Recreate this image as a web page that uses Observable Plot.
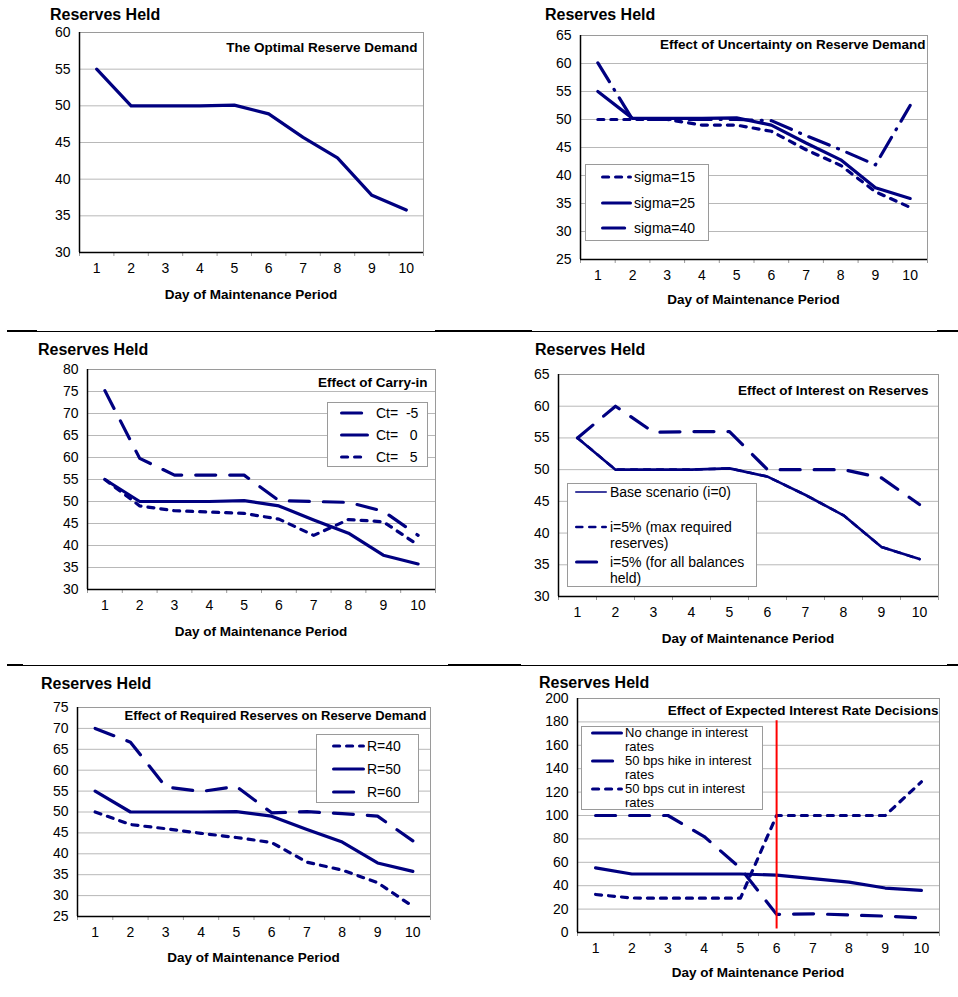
<!DOCTYPE html>
<html><head><meta charset="utf-8">
<script src="https://cdn.jsdelivr.net/npm/d3@7"></script>
<script src="https://cdn.jsdelivr.net/npm/@observablehq/plot@0.6"></script>
<style>
body{margin:0;background:#fff;font-family:"Liberation Sans",Arial,sans-serif;color:#000}
#root{position:relative;width:958px;height:997px;overflow:hidden;background:#fff}
.abs{position:absolute;white-space:nowrap}
.rh{font-weight:bold;font-size:16px;line-height:16px}
.xt{font-weight:bold;font-size:13.5px;line-height:16px;text-align:center}
.lg{position:absolute;border:1px solid #9a9a9a;background:#fff;box-sizing:border-box}
g[aria-label="x-axis tick label"], g[aria-label="y-axis tick label"],
g[aria-label="x-axis tick label"] text, g[aria-label="y-axis tick label"] text{font-size:14px !important}
</style></head><body><div id="root"></div>
<script>
// ---------- data ----------
const days = [1, 2, 3, 4, 5, 6, 7, 8, 9, 10];
const optimal = [55, 50, 50, 50, 50.1, 48.9, 45.7, 42.9, 37.8, 35.8];

const sigma15 = [50, 50, 50, 49, 49, 47.9, 44.6, 41.8, 37.1, 34.3];
const sigma25 = [55, 50.2, 50.2, 50.2, 50.3, 49, 45.8, 42.8, 37.8, 35.9];
const sigma40 = [60.1, 50, 50, 50, 50, 49.8, 47.1, 44.6, 41.9, 52.5];

const ctMinus5 = [75.2, 59.8, 56, 56, 56, 50.2, 50, 49.8, 47.8, 42.3];
const ct0 = [55, 50, 50, 50, 50.2, 49, 45.8, 42.8, 37.8, 35.8];
const ctPlus5 = [55, 49, 47.9, 47.6, 47.3, 46, 42.3, 45.9, 45.4, 40.1];

const baseScenario = [55, 50, 50, 50, 50.2, 48.9, 46, 42.8, 37.8, 35.9];
const maxRequired = [55, 50, 50, 50, 50.2, 48.9, 46, 42.8, 37.8, 35.9];
const allBalances = [55, 60, 55.9, 56, 56, 50, 50, 50, 48.7, 44.5];

const r40 = [50, 47, 46, 44.9, 43.9, 42.7, 38, 36.1, 33.1, 27.4];
const r50 = [55, 50, 50, 50, 50.1, 49, 45.8, 42.8, 37.8, 35.8];
const r60 = [70, 66.7, 56, 54.9, 56.1, 49.8, 50.1, 49.6, 49, 43.1];

const noChange = [55.3, 50, 50, 50, 50, 49, 46, 43, 38, 36];
const hike = [100, 100, 100, 82, 55, 15.5, 16, 15, 14, 12.5];
const cut = [32.5, 29.5, 29.3, 29.3, 29.3, 100, 100, 100, 100, 128.8];
const decisionDay = [{day: 6, low: 3, high: 181}];

// ---------- styles ----------
const NAVY = "#000080";
const SOLID = null;
const SHORT = "6,7";
const LONG = "20,14";
const DASHDOT = "22,9,1,9";
const FONT = '"Liberation Sans", Arial, sans-serif';

const root = document.getElementById("root");
function el(tag, cls, css, html) {
  const e = document.createElement(tag);
  if (cls) e.className = cls;
  Object.assign(e.style, css);
  if (html != null) e.innerHTML = html;
  root.appendChild(e);
  return e;
}

const panels = [
  {L: 79, R: 423, T: 32, B: 252, ymin: 30, ymax: 60, step: 5, rhX: 50, rhY: 15, xtY: 295,
   title: "The Optimal Reserve Demand", tdx: -6, tdy: 15, tfs: 13.5,
   series: [{name: "optimal", values: optimal, dash: SOLID, w: 3.2}]},
  {L: 580, R: 927, T: 35, B: 259, ymin: 25, ymax: 65, step: 5, rhX: 545, rhY: 15, xtY: 300,
   title: "Effect of Uncertainty on Reserve Demand", tdx: -2, tdy: 9, tfs: 13.5,
   series: [
     {name: "sigma=15", values: sigma15, dash: SHORT, w: 3.2},
     {name: "sigma=25", values: sigma25, dash: SOLID, w: 3.2},
     {name: "sigma=40", values: sigma40, dash: DASHDOT, w: 3.2}],
   legend: {L: 585, T: 164, R: 709, B: 241, x1: 601, x2: 632, tx: 634, lh: 16, fs: 14,
     rows: [{y: 177, s: 0, lines: ["sigma=15"]}, {y: 203, s: 1, lines: ["sigma=25"]}, {y: 228, s: 2, lines: ["sigma=40"]}]}},
  {L: 87, R: 435, T: 369, B: 589, ymin: 30, ymax: 80, step: 5, rhX: 38, rhY: 350, xtY: 632,
   title: "Effect of Carry-in", tdx: -8, tdy: 13, tfs: 13.5,
   series: [
     {name: "Ct= -5", values: ctMinus5, dash: LONG, w: 3.2},
     {name: "Ct= 0", values: ct0, dash: SOLID, w: 3.2},
     {name: "Ct= 5", values: ctPlus5, dash: SHORT, w: 3.2}],
   legend: {L: 327, T: 402, R: 428, B: 467, x1: 340, x2: 369, tx: 376, lh: 16, fs: 14,
     rows: [{y: 413, s: 0, lines: ["Ct=&nbsp; -5"]}, {y: 435, s: 1, lines: ["Ct=&nbsp;&nbsp; 0"]}, {y: 457, s: 2, lines: ["Ct=&nbsp;&nbsp; 5"]}]}},
  {L: 558, R: 938, T: 374, B: 596, ymin: 30, ymax: 65, step: 5, rhX: 535, rhY: 350, xtY: 639,
   title: "Effect of Interest on Reserves", tdx: -10, tdy: 16, tfs: 13.5,
   series: [
     {name: "Base scenario (i=0)", values: baseScenario, dash: SOLID, w: 2.6, lw: 1.6},
     {name: "i=5% (max required reserves)", values: maxRequired, dash: SHORT, w: 2.6},
     {name: "i=5% (for all balances held)", values: allBalances, dash: LONG, w: 3.2}],
   legend: {L: 567, T: 483, R: 757, B: 587, x1: 575, x2: 607, tx: 610, lh: 16, fs: 14,
     rows: [{y: 492, s: 0, lines: ["Base scenario (i=0)"]},
            {y: 527, s: 1, lines: ["i=5% (max required", "reserves)"]},
            {y: 562, s: 2, lines: ["i=5% (for all balances", "held)"]}]}},
  {L: 77, R: 430, T: 707, B: 916, ymin: 25, ymax: 75, step: 5, rhX: 41, rhY: 684, xtY: 958,
   title: "Effect of Required Reserves on Reserve Demand", tdx: -4, tdy: 8, tfs: 13,
   series: [
     {name: "R=40", values: r40, dash: SHORT, w: 3.2},
     {name: "R=50", values: r50, dash: SOLID, w: 3.2},
     {name: "R=60", values: r60, dash: LONG, w: 3.2}],
   legend: {L: 316, T: 734, R: 419, B: 803, x1: 332, x2: 365, tx: 367, lh: 16, fs: 14,
     rows: [{y: 746, s: 0, lines: ["R=40"]}, {y: 769, s: 1, lines: ["R=50"]}, {y: 792, s: 2, lines: ["R=60"]}]}},
  {L: 577, R: 939, T: 698, B: 932, ymin: 0, ymax: 200, step: 20, rhX: 539, rhY: 683, xtY: 973,
   title: "Effect of Expected Interest Rate Decisions", tdx: -1, tdy: 12, tfs: 13.5,
   series: [
     {name: "No change in interest rates", values: noChange, dash: SOLID, w: 3.2},
     {name: "50 bps hike in interest rates", values: hike, dash: LONG, w: 3.2},
     {name: "50 bps cut in interest rates", values: cut, dash: SHORT, w: 3.2}],
   vline: decisionDay,
   legend: {L: 581, T: 726, R: 763, B: 810, x1: 591, x2: 623, tx: 625, lh: 14, fs: 13,
     rows: [{y: 733, s: 0, lines: ["No change in interest", "rates"]},
            {y: 761, s: 1, lines: ["50 bps hike in interest", "rates"]},
            {y: 789, s: 2, lines: ["50 bps cut in interest", "rates"]}]}}
];

const boundaries = d3.range(0.5, 11, 1);
const mL = 45, mR = 14, mT = 14, mB = 32;

for (const p of panels) {
  const w = p.R - p.L, h = p.B - p.T;
  const yTicks = d3.range(p.ymin, p.ymax + 1e-9, p.step);
  const marks = [
    Plot.ruleY(yTicks.filter(t => t > p.ymin && t < p.ymax), {stroke: "#b8b8b8", strokeWidth: 1}),
    Plot.ruleY([p.ymax], {stroke: "#9a9a9a", strokeWidth: 1}),
    Plot.ruleX([10.5], {stroke: "#9a9a9a", strokeWidth: 1}),
    Plot.axisX({ticks: boundaries, tickSize: 4, tickFormat: () => "", stroke: "#9a9a9a", label: null}),
    Plot.axisX({ticks: days, tickSize: 0, tickPadding: 11, fontSize: 14, label: null, tickFormat: d => String(d)}),
    Plot.axisY({ticks: yTicks, tickSize: 0, tickPadding: 9, fontSize: 14, label: null, tickFormat: d => String(d)})
  ];
  for (const s of p.series) {
    marks.push(Plot.line(s.values.map((v, i) => ({day: days[i], value: v})), {
      x: "day", y: "value", stroke: NAVY, strokeWidth: s.w,
      strokeDasharray: s.dash || undefined, strokeLinejoin: "round", strokeLinecap: "round"
    }));
  }
  if (p.vline) {
    marks.push(Plot.ruleX(p.vline, {x: "day", y1: "low", y2: "high", stroke: "#ff0000", strokeWidth: 2}));
  }
  marks.push(Plot.ruleY([p.ymin], {stroke: "#000", strokeWidth: 1.5}));
  marks.push(Plot.ruleX([0.5], {stroke: "#000", strokeWidth: 1.5}));
  marks.push(Plot.text([p.title], {text: d => d, frameAnchor: "top-right", dx: p.tdx, dy: p.tdy,
    lineAnchor: "middle", textAnchor: "end", fontWeight: "bold", fontSize: p.tfs, fill: "#000"}));

  const chart = Plot.plot({
    width: w + mL + mR, height: h + mT + mB,
    marginLeft: mL, marginRight: mR, marginTop: mT, marginBottom: mB,
    x: {type: "linear", domain: [0.5, 10.5], label: null},
    y: {type: "linear", domain: [p.ymin, p.ymax], label: null},
    style: {fontFamily: FONT, fontSize: "14px", color: "#000", background: "transparent", overflow: "visible"},
    marks
  });
  chart.style.position = "absolute";
  chart.style.left = (p.L - mL) + "px";
  chart.style.top = (p.T - mT) + "px";
  root.appendChild(chart);

  el("div", "abs rh", {left: p.rhX + "px", top: (p.rhY - 8) + "px"}, "Reserves Held");
  el("div", "abs xt", {left: ((p.L + p.R) / 2 - 150) + "px", width: "300px", top: (p.xtY - 8) + "px"}, "Day of Maintenance Period");

  if (p.legend) {
    const g = p.legend;
    el("div", "lg", {left: g.L + "px", top: g.T + "px", width: (g.R - g.L) + "px", height: (g.B - g.T) + "px"});
    for (const r of g.rows) {
      const s = p.series[r.s];
      const sw = s.lw || s.w;
      const len = g.x2 - g.x1;
      const dash = s.dash ? ` stroke-dasharray="${s.dash}"` : "";
      el("div", "abs", {left: g.x1 + "px", top: (r.y - 5) + "px", width: len + "px", height: "10px"},
        `<svg width="${len}" height="10" style="display:block"><line x1="${sw/2}" y1="5" x2="${len - sw/2}" y2="5" stroke="${NAVY}" stroke-width="${sw}" stroke-linecap="round"${dash}/></svg>`);
      r.lines.forEach((line, k) => {
        el("div", "abs", {left: g.tx + "px", top: (r.y - g.lh / 2 + k * g.lh) + "px", lineHeight: g.lh + "px", height: g.lh + "px", fontSize: g.fs + "px"}, line);
      });
    }
  }
}

// page separators
function sep(y, x1, x2, t) { el("div", "", {position: "absolute", left: x1 + "px", top: (y - t / 2) + "px", width: (x2 - x1) + "px", height: t + "px", background: "#000"}); }
sep(331, 7, 955, 1); sep(331, 7, 37, 2); sep(331, 435, 532, 2); sep(331, 937, 958, 2);
sep(665, 7, 955, 1); sep(665, 7, 23, 2); sep(665, 448, 521, 2); sep(665, 947, 958, 2);
</script>
</body></html>
